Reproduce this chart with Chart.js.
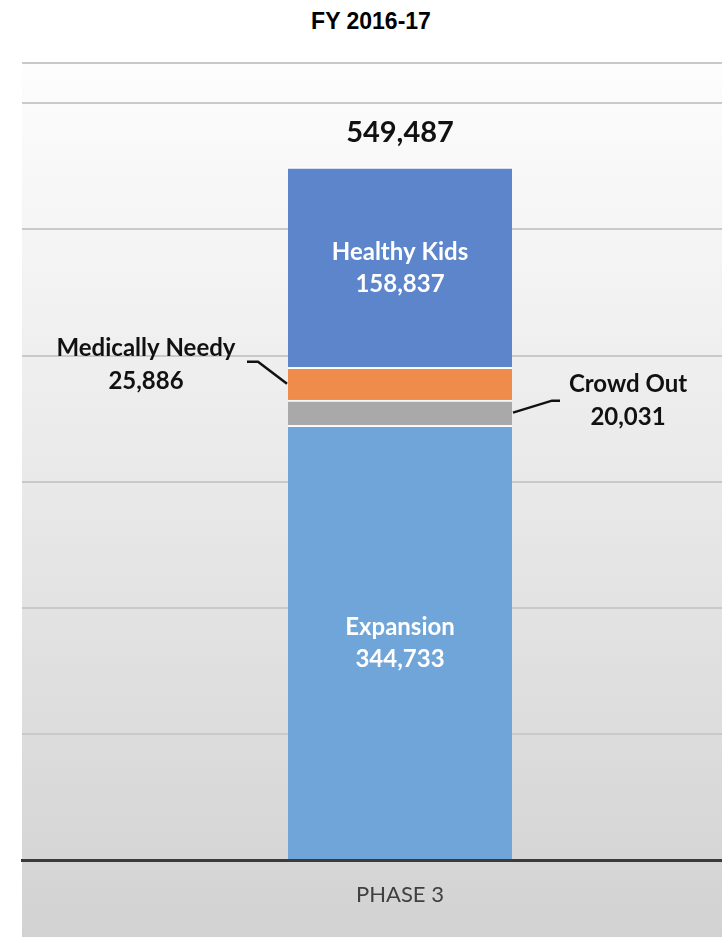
<!DOCTYPE html>
<html>
<head>
<meta charset="utf-8">
<title>FY 2016-17</title>
<script src="https://cdn.jsdelivr.net/npm/chart.js@4"></script>
<style>
    html, body { margin: 0; padding: 0; background: #ffffff; overflow: hidden; width: 722px; height: 937px; }
    #title {
        position: absolute; left: 0; top: 8px; width: 742px;
        text-align: center; font: bold 23px "Liberation Sans", Arial, sans-serif; color: #000;
    }
    #chart { position: absolute; left: 0; top: 0; }
</style>
</head>
<body>
<div id="title">FY 2016-17</div>
<canvas id="chart" width="778" height="937"></canvas>
<script>
// Chart data
const categories = ['PHASE 3'];
const seriesNames = ['Expansion', 'Crowd Out', 'Medically Needy', 'Healthy Kids'];
const expansion = [344733];
const crowdOut = [20031];
const medicallyNeedy = [25886];
const healthyKids = [158837];
const totals = [549487];
const yTicks = [0, 100000, 200000, 300000, 400000, 500000, 600000];
const yMax = 632000;

const seriesValues = [expansion, crowdOut, medicallyNeedy, healthyKids];
const seriesColors = ['#6fa5d8', '#a9a9a9', '#ef8c4b', '#5c85cb'];

const labelFont = 'bold 24px Lato, "Open Sans", sans-serif';

function formatNumber(n) {
    return new Intl.NumberFormat('en-US').format(n);
}

// Light grey gradient behind the plot area
const backgroundPlugin = {
    id: 'background',
    beforeDraw(chart) {
        const { ctx, chartArea } = chart;
        const grad = ctx.createLinearGradient(0, chartArea.top, 0, chart.height);
        grad.addColorStop(0, '#fdfdfd');
        grad.addColorStop(0.5, '#e8e8e8');
        grad.addColorStop(1, '#d2d2d2');
        ctx.save();
        ctx.fillStyle = grad;
        ctx.fillRect(chartArea.left, chartArea.top, chart.width - chartArea.left, chart.height - chartArea.top);
        ctx.restore();
    }
};

// Segment labels, total and leader lines
const labelsPlugin = {
    id: 'segmentLabels',
    afterDatasetsDraw(chart) {
        const ctx = chart.ctx;
        const bars = seriesNames.map((_, i) => chart.getDatasetMeta(i).data[0]);
        const mid = bar => (bar.y + bar.base) / 2;

        ctx.save();
        ctx.textAlign = 'center';
        ctx.textBaseline = 'middle';
        ctx.font = labelFont;

        // inside labels
        ctx.fillStyle = '#ffffff';
        [0, 3].forEach(i => {
            const b = bars[i];
            ctx.fillText(seriesNames[i], b.x, mid(b) - 15);
            ctx.fillText(formatNumber(seriesValues[i][0]), b.x, mid(b) + 17);
        });

        // Medically Needy, outside left
        ctx.fillStyle = '#111111';
        const mn = bars[2];
        const mnLeft = mn.x - mn.width / 2;
        ctx.fillText(seriesNames[2], mnLeft - 142, mid(mn) - 35);
        ctx.fillText(formatNumber(medicallyNeedy[0]), mnLeft - 142, mid(mn) - 2);

        // Crowd Out, outside right
        const co = bars[1];
        const coRight = co.x + co.width / 2;
        ctx.fillText(seriesNames[1], coRight + 116, mid(co) - 28);
        ctx.fillText(formatNumber(crowdOut[0]), coRight + 116, mid(co) + 5);

        // leader lines
        ctx.strokeStyle = '#111111';
        ctx.lineWidth = 2.5;
        ctx.beginPath();
        ctx.moveTo(mnLeft - 41, mid(mn) - 22);
        ctx.lineTo(mnLeft - 30, mid(mn) - 22);
        ctx.lineTo(mnLeft - 1, mid(mn));
        ctx.stroke();
        ctx.beginPath();
        ctx.moveTo(coRight + 1, mid(co));
        ctx.lineTo(coRight + 40, mid(co) - 12);
        ctx.lineTo(coRight + 48, mid(co) - 12);
        ctx.stroke();

        // total on top
        const top = bars[3];
        ctx.font = 'bold 29px Lato, "Open Sans", sans-serif';
        ctx.fillText(formatNumber(totals[0]), top.x, top.y - 34);
        ctx.restore();
    }
};

const chart = new Chart(document.getElementById('chart').getContext('2d'), {
    type: 'bar',
    data: {
        labels: categories,
        datasets: seriesNames.map((name, i) => ({
            label: name,
            data: seriesValues[i],
            backgroundColor: seriesColors[i],
            borderColor: 'rgba(255,255,255,0.75)',
            borderWidth: { top: 2, left: 0, right: 0, bottom: 0 },
            borderSkipped: false,
            barThickness: 224
        }))
    },
    options: {
        responsive: false,
        animation: false,
        layout: { padding: { top: 63, left: 22, right: 0, bottom: 0 } },
        plugins: {
            legend: { display: false },
            tooltip: { enabled: false },
            title: { display: false }
        },
        scales: {
            x: {
                stacked: true,
                grid: { display: false, drawTicks: false },
                border: { display: true, color: '#3b3b3b', width: 3 },
                ticks: {
                    color: '#404040',
                    padding: 22,
                    font: { family: 'Lato, "Open Sans", sans-serif', size: 22 }
                },
                afterFit: s => { s.height = 77; }
            },
            y: {
                stacked: true,
                min: 0,
                max: yMax,
                afterBuildTicks: axis => {
                    axis.ticks = yTicks.concat([yMax]).map(v => ({ value: v }));
                },
                grid: {
                    drawTicks: false,
                    lineWidth: 2,
                    color: c => (c.tick && c.tick.value === 0) ? 'rgba(0,0,0,0)' : '#c9c9c9'
                },
                border: { display: false },
                ticks: { display: false },
                afterFit: s => { s.width = 0; }
            }
        }
    },
    plugins: [backgroundPlugin, labelsPlugin]
});
</script>
</body>
</html>
